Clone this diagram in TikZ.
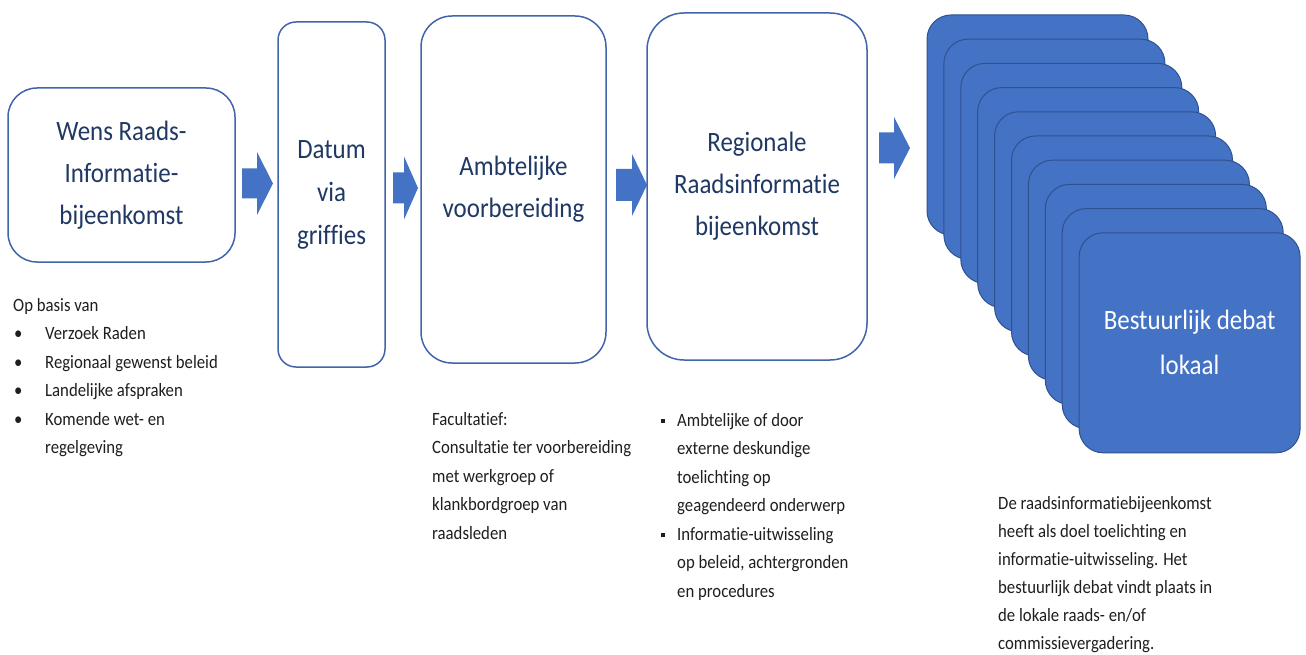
\documentclass[tikz,border=0pt]{standalone}
\usepackage{fontspec}
\setmainfont{Carlito}[FakeStretch=0.89, Ligatures=NoCommon]
\definecolor{boxline}{RGB}{65,100,170}
\definecolor{navytxt}{RGB}{31,56,100}
\definecolor{cardfill}{RGB}{68,114,196}
\definecolor{cardline}{RGB}{47,82,143}
\definecolor{bodytxt}{RGB}{30,30,30}
\newcommand\notefont{\fontsize{18.8}{28.5}\selectfont}
\newcommand\dotbullet{\hspace*{1pt}\makebox[31pt][l]{•}}
\newcommand\sqbullet{\makebox[16pt][l]{\rule[3pt]{4pt}{4pt}}}
\newcommand\blockarrow[6]{% x0, xh, x1, yc, half shaft, half head
  \fill[cardfill] (#1,#4-#5) -- (#2,#4-#5) -- (#2,#4-#6) -- (#3,#4) -- (#2,#4+#6) -- (#2,#4+#5) -- (#1,#4+#5) -- cycle;}
\tikzset{
  wbox/.style={draw=boxline, line width=1.5pt, fill=white, inner sep=0pt,
    text=navytxt, align=center, font=\fontsize{28}{42}\selectfont},
  card/.style={draw=cardline, line width=1pt, fill=cardfill, rounded corners=24pt,
    minimum width=221pt, minimum height=220pt, inner sep=0pt,
    text=white, align=center, font=\fontsize{28}{45}\selectfont},
  note/.style={inner sep=0pt, anchor=base west, text=bodytxt}
}
\begin{document}
\begin{tikzpicture}[x=1pt,y=-1pt]
\useasboundingbox (0,0) rectangle (1306,655);
% process boxes
\node[wbox, minimum width=227pt, minimum height=174pt, rounded corners=29pt] (b1) at (121.5,175) {Wens Raads-\\Informatie-\\bijeenkomst};
\node[wbox, minimum width=107pt, minimum height=345pt, rounded corners=18pt, font=\fontsize{28}{43}\selectfont] (b2) at (331.5,194.5) {Datum\\via\\griffies};
\node[wbox, minimum width=185pt, minimum height=347pt, rounded corners=31pt] (b3) at (513.5,189.5) {Ambtelijke\\voorbereiding};
\node[wbox, minimum width=220pt, minimum height=347pt, rounded corners=37pt] (b4) at (757,186.5) {Regionale\\Raadsinformatie\\bijeenkomst};
% stacked cards
\foreach \i in {0,...,8} {
  \node[card] (card\i) at ({1037.5+\i*16.9},{125+\i*24.2}) {};
}
\node[card] (card9) at ({1037.5+9*16.9},{125+9*24.2}) {Bestuurlijk debat\\lokaal};
% block arrows
\blockarrow{242}{257}{273}{183.5}{15}{31.5}
\blockarrow{393}{404}{418}{188}{15.5}{31.5}
\blockarrow{616}{632}{647}{185}{16}{31}
\blockarrow{879}{894}{910}{148}{15.5}{31}
% notes
\node[note] (n1) at (13,311) {\begin{minipage}[t]{240pt}\notefont\raggedright
Op basis van\\
\dotbullet Verzoek Raden\\
\dotbullet Regionaal gewenst beleid\\
\dotbullet Landelijke afspraken\\
\dotbullet Komende wet- en\\
\hspace*{32pt}regelgeving\end{minipage}};
\node[note] (n2) at (432,425) {\begin{minipage}[t]{220pt}\notefont\raggedright
Facultatief:\\
Consultatie ter voorbereiding\\
met werkgroep of\\
klankbordgroep van\\
raadsleden\end{minipage}};
\node[note] (n3) at (661,426) {\begin{minipage}[t]{230pt}\notefont\raggedright
\sqbullet Ambtelijke of door\\
\hspace*{16pt}externe deskundige\\
\hspace*{16pt}toelichting op\\
\hspace*{16pt}geagendeerd onderwerp\\
\sqbullet Informatie-uitwisseling\\
\hspace*{16pt}op beleid, achtergronden\\
\hspace*{16pt}en procedures\end{minipage}};
\node[note] (n4) at (998,509) {\begin{minipage}[t]{260pt}\fontsize{18.8}{28}\selectfont\raggedright
De raadsinformatiebijeenkomst\\
heeft als doel toelichting en\\
informatie-uitwisseling. Het\\
bestuurlijk debat vindt plaats in\\
de lokale raads- en/of\\
commissievergadering.\end{minipage}};
\end{tikzpicture}
\end{document}
